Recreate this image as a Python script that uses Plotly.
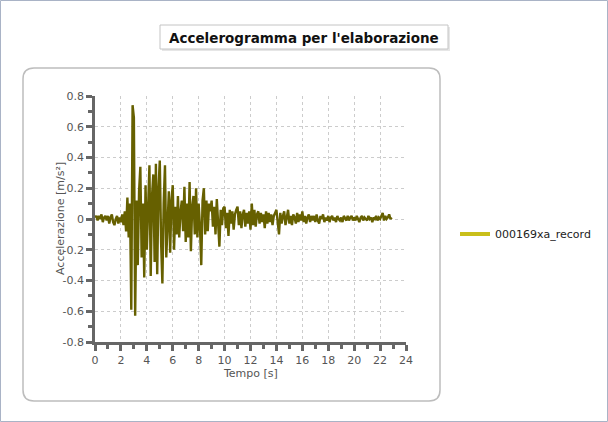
import numpy as np
import plotly.graph_objects as go

title_text = "Accelerogramma per l'elaborazione"
series_name = "000169xa_record"
x_title = "Tempo [s]"
y_title = "Accelerazione [m/s²]"
x_tickvals = [0, 2, 4, 6, 8, 10, 12, 14, 16, 18, 20, 22, 24]
x_ticktext = ["0", "2", "4", "6", "8", "10", "12", "14", "16", "18", "20", "22", "24"]
y_tickvals = [-0.8, -0.6, -0.4, -0.2, 0, 0.2, 0.4, 0.6, 0.8]
y_ticktext = ["-0.8", "-0.6", "-0.4", "-0.2", "0", "0.2", "0.4", "0.6", "0.8"]

dt = 0.1
accel = [
    0.01, 0.02, -0.01, 0.02, 0.00, 0.03, -0.02, 0.01, 0.02, -0.01,
    0.02, -0.03, 0.01, 0.03, -0.02, -0.04, 0.00, 0.02, -0.03, 0.01,
    -0.02, 0.03, -0.04, 0.05, -0.08, 0.14, -0.12, 0.10, -0.59, 0.74,
    0.66, -0.63, 0.12, -0.30, 0.18, 0.34, -0.25, 0.10, -0.38, 0.22,
    -0.20, 0.05, 0.35, -0.37, 0.15, 0.29, -0.28, 0.36, -0.36, 0.20,
    0.38, -0.15, -0.42, 0.10, 0.35, -0.25, 0.05, 0.18, -0.22, 0.12,
    0.22, -0.20, 0.08, -0.10, 0.15, -0.12, 0.05, 0.12, -0.08, 0.21,
    -0.15, 0.10, -0.12, 0.24, -0.21, 0.08, 0.15, -0.10, 0.20, -0.12,
    0.10, -0.05, -0.30, 0.12, 0.20, -0.10, 0.12, -0.08, 0.10, 0.05,
    0.12, -0.05, 0.08, -0.10, 0.13, -0.05, -0.18, 0.06, -0.04, 0.07,
    0.08, -0.06, 0.04, -0.11, 0.06, -0.03, 0.05, -0.07, 0.03, 0.06,
    0.08, -0.04, 0.05, -0.06, 0.03, 0.06, -0.05, 0.04, -0.03, 0.05,
    -0.07, 0.10, -0.04, 0.06, -0.05, 0.03, 0.05, -0.03, 0.04, -0.02,
    0.03, -0.06, 0.05, -0.03, 0.04, -0.02, 0.03, -0.04, 0.02, 0.04,
    0.06, -0.02, -0.10, 0.04, -0.03, 0.02, 0.05, -0.04, 0.03, 0.06,
    -0.03, 0.02, -0.04, 0.03, 0.01, -0.03, 0.04, -0.02, 0.03, -0.01,
    0.05, -0.02, 0.02, -0.03, 0.01, 0.03, -0.02, 0.02, -0.01, 0.02,
    -0.02, 0.03, -0.01, -0.03, 0.02, 0.00, 0.03, -0.02, 0.01, -0.01,
    0.02, -0.02, 0.01, 0.02, -0.01, 0.01, -0.02, 0.02, 0.00, -0.01,
    0.01, -0.02, 0.02, 0.00, -0.01, 0.02, -0.01, 0.01, 0.02, -0.01,
    0.01, -0.01, 0.02, 0.00, -0.02, 0.01, 0.02, -0.01, 0.01, 0.00,
    -0.01, 0.02, 0.00, 0.01, -0.02, 0.01, 0.00, 0.02, -0.01, 0.01,
    0.00, 0.02, 0.04, -0.01, 0.02, 0.00, 0.01, 0.03, 0.00, 0.01,
]
time = np.arange(len(accel)) * dt

W, H = 608, 422
L, R, T, B = 95, 406, 96, 342  # plot area pixels


def px(x):
    return (x - L) / (R - L)


def py(y):
    return (B - y) / (B - T)


def rounded(x0, y0, x1, y1, r):
    rx = r / (R - L)
    ry = r / (B - T)
    X0, X1 = px(x0), px(x1)
    Y0, Y1 = py(y0), py(y1)
    return (f"M {X0+rx},{Y0} L {X1-rx},{Y0} Q {X1},{Y0} {X1},{Y0-ry} "
            f"L {X1},{Y1+ry} Q {X1},{Y1} {X1-rx},{Y1} "
            f"L {X0+rx},{Y1} Q {X0},{Y1} {X0},{Y1+ry} "
            f"L {X0},{Y0-ry} Q {X0},{Y0} {X0+rx},{Y0} Z")


fig = go.Figure()
fig.add_trace(go.Scatter(
    x=time, y=accel, mode="lines", name=series_name, showlegend=False,
    line=dict(color="#666000", width=2.4), legendgroup="a",
))
fig.add_trace(go.Scatter(
    x=[None], y=[None], mode="lines", name=series_name, legendgroup="a",
    line=dict(color="#c9bf1a", width=4),
))

shapes = [
    dict(type="rect", xref="paper", yref="paper", x0=px(0.5), x1=px(607.5),
         y0=py(0.5), y1=py(421.5), line=dict(color="#a9b3c6", width=1),
         layer="below"),
    dict(type="path", xref="paper", yref="paper",
         path=rounded(23, 68, 440, 401, 11),
         line=dict(color="#bdbdbd", width=1.5), fillcolor="white", layer="below"),
    dict(type="rect", xref="paper", yref="paper", x0=px(162), x1=px(450),
         y0=py(27), y1=py(51), line=dict(width=0), fillcolor="#e6e6e6",
         layer="below"),
    dict(type="rect", xref="paper", yref="paper", x0=px(160), x1=px(448),
         y0=py(25), y1=py(49), line=dict(color="#c4c4c4", width=1),
         fillcolor="white", layer="below"),
]

annotations = [
    dict(text=f"<b>{title_text}</b>", xref="paper", yref="paper",
         x=px(304), y=py(37.5), xanchor="center", yanchor="middle",
         showarrow=False, font=dict(family="DejaVu Sans", size=13.5, color="#111")),
    dict(text=x_title, xref="paper", yref="paper", x=px(250), y=py(373),
         xanchor="center", yanchor="middle", showarrow=False,
         font=dict(size=11, color="#555")),
    dict(text=y_title, xref="paper", yref="paper", x=px(60), y=py(219),
         xanchor="center", yanchor="middle", showarrow=False, textangle=-90,
         font=dict(size=11, color="#555")),
]

fig.update_layout(
    width=W, height=H,
    margin=dict(l=L, r=W - R, t=T, b=H - B),
    paper_bgcolor="white", plot_bgcolor="white",
    shapes=shapes, annotations=annotations,
    font=dict(family="DejaVu Sans", size=11, color="#555"),
    legend=dict(x=px(455), y=py(234), xanchor="left", yanchor="middle",
                font=dict(size=11, color="#222"), bgcolor="rgba(0,0,0,0)",
                itemwidth=30),
    xaxis=dict(
        range=[0, 24], tickvals=x_tickvals, ticktext=x_ticktext,
        showline=True, linecolor="#666",
        linewidth=2.5, ticks="outside", ticklen=6, tickwidth=2.5, tickcolor="#666",
        minor=dict(dtick=1, tick0=0, ticks="outside", ticklen=4, tickwidth=2.5,
                   tickcolor="#666", showgrid=False),
        showgrid=True, gridcolor="#cccccc", griddash="3px,3px", gridwidth=1,
        zeroline=False, tickfont=dict(size=11, color="#555"),
    ),
    yaxis=dict(
        range=[-0.8, 0.8], tickvals=y_tickvals, ticktext=y_ticktext,
        showline=True, linecolor="#666",
        linewidth=2.5, ticks="outside", ticklen=6, tickwidth=2.5, tickcolor="#666",
        minor=dict(dtick=0.1, tick0=0, ticks="outside", ticklen=4, tickwidth=2.5,
                   tickcolor="#666", showgrid=False),
        showgrid=True, gridcolor="#cccccc", griddash="3px,3px", gridwidth=1,
        zeroline=False, tickfont=dict(size=11, color="#555"),
    ),
)

fig.write_html("out.html", config={"displayModeBar": False},
               post_script="document.body.style.margin='0';")
